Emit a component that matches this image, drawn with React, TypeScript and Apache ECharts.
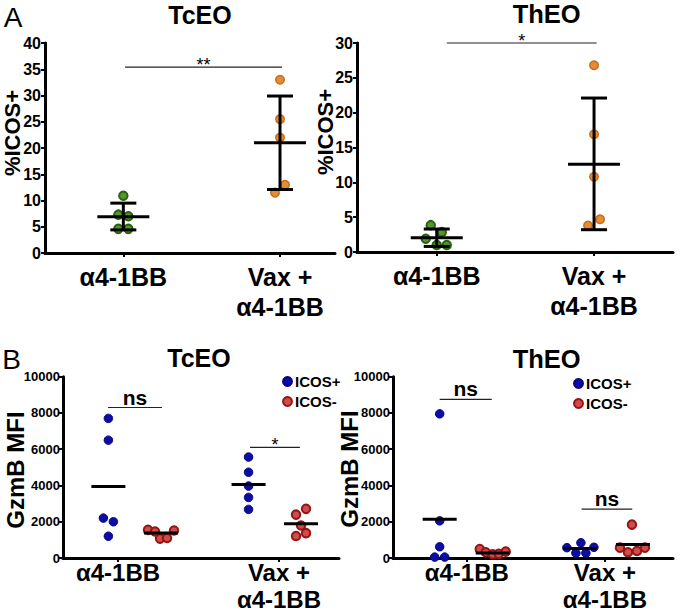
import React, { useEffect, useRef } from 'react';
import * as echarts from 'echarts';

const FONT = '"Liberation Sans", Arial, Helvetica, sans-serif';

// ---------- Category labels ----------
const groupLabels = ['α4-1BB', 'Vax +\nα4-1BB'];

// ---------- Panel A: %ICOS+ ----------
const tcA_ctrl = [10.9, 7.3, 7.0, 4.6, 4.6];
const tcA_vax = [33.0, 25.5, 22.0, 13.0, 11.5];
const tcA_mean = [6.9, 21.0];
const tcA_low = [4.4, 12.1];
const tcA_high = [9.5, 29.9];

const thA_ctrl = [3.85, 2.85, 1.9, 1.0, 1.0];
const thA_vax = [26.8, 16.9, 10.8, 4.7, 3.8];
const thA_mean = [2.05, 12.6];
const thA_low = [0.8, 3.2];
const thA_high = [3.3, 22.1];

// ---------- Panel B: GzmB MFI ----------
const tcB_posCtrl = [7700, 6500, 2200, 2000, 1200];
const tcB_negCtrl = [1550, 1460, 1070, 1100, 1520];
const tcB_posVax = [5570, 4730, 3970, 3340, 2680];
const tcB_negVax = [2390, 2710, 1790, 1210, 1370];
const tcB_mean = [3950, 1380, 4050, 1890]; // ICOS+ ctrl, ICOS- ctrl, ICOS+ vax, ICOS- vax

const thB_posCtrl = [7950, 2050, 620, 50, 50];
const thB_negCtrl = [500, 320, 210, 230, 350];
const thB_posVax = [570, 840, 590, 270, 270];
const thB_negVax = [1840, 570, 320, 390, 570];
const thB_mean = [2140, 280, 530, 750];

// ---------- Significance annotations ----------
const sigTcA = [[0.011, 1.013, 35.4]];
const sigTcA_lbl = ['**'];
const sigThA = [[0.064, 1.017, 30.0]];
const sigThA_lbl = ['*'];
const sigTcB = [[-0.062, 0.273, 8300], [0.82, 1.13, 6100]];
const sigTcB_lbl = ['ns', '*'];
const sigThB = [[-0.196, 0.181, 8750], [0.831, 1.198, 2700]];
const sigThB_lbl = ['ns', 'ns'];

// ---------- layout / style constants ----------
const jitTcA_ctrl = [0, -5, 5, -5, 5];
const jitTcA_vax = [0, 0, 0, 5, -5];
const jitThA_ctrl = [-6, 5, -11, 0, 10];
const jitThA_vax = [0, 0, 0, 6, -6];
const jitTcB = { posCtrl: [0, 0, -5, 5, 0], negCtrl: [-13, -6, -1, 6, 13], posVax: [0, 0, 0, 0, 0], negVax: [-5, 5, 0, -5, 5] };
const jitThB = { posCtrl: [0, 0, 0, -5, 5], negCtrl: [-13, -7, 0, 6, 13], posVax: [-13, 1, 14, -4, 6], negVax: [-1, -13, -5, 4, 12] };
const subPosTcB = [-0.06, 0.267, 0.811, 1.137];
const subPosThB = [-0.196, 0.188, 0.819, 1.203];

const GREEN = { color: '#55962f', borderColor: '#2a6010', borderWidth: 2, opacity: 1 };
const ORANGE = { color: '#e48c38', borderColor: '#c86c18', borderWidth: 1.5, opacity: 1 };
const BLUE = { color: '#0c0ca6', borderColor: '#06067e', borderWidth: 1, opacity: 1 };
const RED = { color: '#cf4c4c', borderColor: '#951515', borderWidth: 2, opacity: 1 };

function pts(x: number, values: number[], jit: number[]) {
  return values.map((v, i) => ({ value: [x, v], symbolOffset: [jit[i], 0] }));
}

const meanSD = (half: number, cap: number) => (params: any, api: any) => {
  const x = api.value(0);
  const m = api.value(1);
  const c = api.coord([x, m]);
  const st = { stroke: '#000', lineWidth: 3 };
  const children: any[] = [
    { type: 'line', shape: { x1: c[0] - half, y1: c[1], x2: c[0] + half, y2: c[1] }, style: st },
  ];
  if (cap > 0) {
    const pl = api.coord([x, api.value(2)]);
    const ph = api.coord([x, api.value(3)]);
    children.push({ type: 'line', shape: { x1: c[0], y1: pl[1], x2: c[0], y2: ph[1] }, style: st });
    children.push({ type: 'line', shape: { x1: c[0] - cap, y1: pl[1], x2: c[0] + cap, y2: pl[1] }, style: st });
    children.push({ type: 'line', shape: { x1: c[0] - cap, y1: ph[1], x2: c[0] + cap, y2: ph[1] }, style: st });
  }
  return { type: 'group', children };
};

const sigRender = (labels: string[]) => (params: any, api: any) => {
  const y = api.value(2);
  const p1 = api.coord([api.value(0), y]);
  const p2 = api.coord([api.value(1), y]);
  const label = labels[params.dataIndex];
  const ns = label === 'ns';
  return {
    type: 'group',
    children: [
      { type: 'line', shape: { x1: p1[0], y1: p1[1], x2: p2[0], y2: p2[1] }, style: { stroke: '#222', lineWidth: 1.2 } },
      {
        type: 'text',
        x: (p1[0] + p2[0]) / 2,
        y: ns ? p1[1] : p1[1] - 2.5,
        style: {
          text: label,
          font: ns ? `bold 21px ${FONT}` : `18px ${FONT}`,
          fill: '#000',
          align: 'center',
          verticalAlign: ns ? 'bottom' : 'middle',
        },
      },
    ],
  };
};

function xAxis(gridIndex: number, min: number, max: number, big: boolean) {
  return {
    type: 'value',
    gridIndex,
    min,
    max,
    splitLine: { show: false },
    axisLine: { show: true, onZero: false, lineStyle: { color: '#000', width: 3 } },
    axisTick: { show: true, customValues: [0, 1], length: 4, lineStyle: { color: '#000', width: 2 } },
    axisLabel: {
      show: true,
      customValues: [0, 1],
      formatter: (v: number) => (Math.round(v) === 0 ? groupLabels[0] : groupLabels[1]),
      fontFamily: FONT,
      fontWeight: 'bold',
      fontSize: big ? 25 : 24,
      lineHeight: big ? 30 : 27,
      margin: big ? 8.5 : 1,
      color: '#000',
    },
  };
}

function yAxis(gridIndex: number, max: number, interval: number, size: number, margin: number) {
  return {
    type: 'value',
    gridIndex,
    min: 0,
    max,
    interval,
    splitLine: { show: false },
    axisLine: { show: true, onZero: false, lineStyle: { color: '#000', width: 3 } },
    axisTick: { show: true, length: 4, lineStyle: { color: '#000', width: 2 } },
    axisLabel: {
      show: true,
      formatter: (v: number) => String(v),
      fontFamily: FONT,
      fontWeight: 'bold',
      fontSize: size,
      color: '#000',
      margin,
    },
  };
}

function gtext(text: string, x: number, y: number, font: string, rotation = 0) {
  return {
    type: 'text',
    x,
    y,
    rotation,
    style: { text, font, fill: '#000', align: 'center', verticalAlign: 'middle', textAlign: 'center', textVerticalAlign: 'middle' },
  };
}

export default function App() {
  const ref = useRef<HTMLDivElement>(null);
  useEffect(() => {
    document.body.style.margin = '0';
    if (!ref.current) return;
    const chart = echarts.init(ref.current, undefined, { renderer: 'svg' });

    const scat = (name: string, xi: number, data: any[], style: any, z = 2) => ({
      type: 'scatter',
      name,
      xAxisIndex: xi,
      yAxisIndex: xi,
      symbol: 'circle',
      symbolSize: 8.5,
      data,
      itemStyle: style,
      z,
    });
    const custom = (name: string, xi: number, data: any[], renderItem: any) => ({
      type: 'custom',
      name,
      xAxisIndex: xi,
      yAxisIndex: xi,
      data,
      renderItem,
      z: 5,
      silent: true,
    });

    const legendCommon = {
      orient: 'vertical',
      itemWidth: 9,
      itemHeight: 9,
      itemGap: 5,
      selectedMode: false,
      data: [{ name: 'ICOS+', icon: 'circle' }, { name: 'ICOS-', icon: 'circle' }],
      textStyle: { fontFamily: FONT, fontWeight: 'bold', fontSize: 15, color: '#000', padding: [0, 0, 0, -2] },
    };

    const option: any = {
      animation: false,
      backgroundColor: '#fff',
      grid: [
        { left: 45, top: 43, width: 290, height: 210 },
        { left: 357, top: 43, width: 316, height: 209 },
        { left: 63, top: 376.7, width: 276, height: 186.6 },
        { left: 393, top: 376.7, width: 280, height: 186.6 },
      ],
      xAxis: [
        xAxis(0, -0.5, 1.351, true),
        xAxis(1, -0.507, 1.502, true),
        xAxis(2, -0.342, 1.373, false),
        xAxis(3, -0.534, 1.493, false),
      ],
      yAxis: [
        yAxis(0, 40, 5, 16, 4),
        yAxis(1, 30, 5, 16, 4),
        yAxis(2, 10000, 2000, 13, 3),
        yAxis(3, 10000, 2000, 13, 3),
      ],
      legend: [
        { ...legendCommon, left: 277, top: 369 },
        { ...legendCommon, left: 568, top: 371 },
      ],
      graphic: [
        gtext('A', 13, 17.5, `28px ${FONT}`),
        gtext('TcEO', 200, 15, `bold 25px ${FONT}`),
        gtext('ThEO', 546.7, 14, `bold 25.5px ${FONT}`),
        gtext('B', 11.5, 359, `28px ${FONT}`),
        gtext('TcEO', 199, 357.5, `bold 25px ${FONT}`),
        gtext('ThEO', 546.7, 359, `bold 25.5px ${FONT}`),
        gtext('%ICOS+', 12, 133, `bold 22px ${FONT}`, Math.PI / 2),
        gtext('%ICOS+', 325, 132, `bold 22px ${FONT}`, Math.PI / 2),
        gtext('GzmB MFI', 15, 470, `bold 24px ${FONT}`, Math.PI / 2),
        gtext('GzmB MFI', 349, 469, `bold 24px ${FONT}`, Math.PI / 2),
      ],
      series: [
        // Panel A TcEO
        scat('tcA ctrl', 0, pts(0, tcA_ctrl, jitTcA_ctrl), GREEN),
        scat('tcA vax', 0, pts(1, tcA_vax, jitTcA_vax), ORANGE),
        custom('tcA mean', 0, tcA_mean.map((m, i) => [i, m, tcA_low[i], tcA_high[i]]), meanSD(26, 13)),
        custom('tcA sig', 0, sigTcA, sigRender(sigTcA_lbl)),
        // Panel A ThEO
        scat('thA ctrl', 1, pts(0, thA_ctrl, jitThA_ctrl), GREEN),
        scat('thA vax', 1, pts(1, thA_vax, jitThA_vax), ORANGE),
        custom('thA mean', 1, thA_mean.map((m, i) => [i, m, thA_low[i], thA_high[i]]), meanSD(26, 13)),
        custom('thA sig', 1, sigThA, sigRender(sigThA_lbl)),
        // Panel B TcEO
        scat('ICOS+', 2, [...pts(subPosTcB[0], tcB_posCtrl, jitTcB.posCtrl), ...pts(subPosTcB[2], tcB_posVax, jitTcB.posVax)], BLUE),
        scat('ICOS-', 2, [...pts(subPosTcB[1], tcB_negCtrl, jitTcB.negCtrl), ...pts(subPosTcB[3], tcB_negVax, jitTcB.negVax)], RED),
        custom('tcB mean', 2, tcB_mean.map((m, i) => [subPosTcB[i], m]), meanSD(17, 0)),
        custom('tcB sig', 2, sigTcB, sigRender(sigTcB_lbl)),
        // Panel B ThEO
        scat('ICOS+', 3, [...pts(subPosThB[0], thB_posCtrl, jitThB.posCtrl), ...pts(subPosThB[2], thB_posVax, jitThB.posVax)], BLUE),
        scat('ICOS-', 3, [...pts(subPosThB[1], thB_negCtrl, jitThB.negCtrl), ...pts(subPosThB[3], thB_negVax, jitThB.negVax)], RED),
        custom('thB mean', 3, thB_mean.map((m, i) => [subPosThB[i], m]), meanSD(17, 0)),
        custom('thB sig', 3, sigThB, sigRender(sigThB_lbl)),
      ],
    };
    chart.setOption(option);
    return () => chart.dispose();
  }, []);
  return <div ref={ref} style={{ width: 680, height: 613 }} />;
}
